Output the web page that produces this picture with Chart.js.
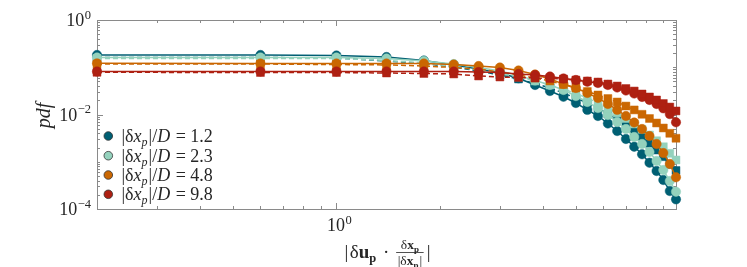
<!DOCTYPE html>
<html><head><meta charset="utf-8">
<script src="https://cdn.jsdelivr.net/npm/chart.js@4/dist/chart.umd.min.js"></script>
<style>html,body{margin:0;padding:0;background:#fff}</style>
</head><body>
<canvas id="c" width="747" height="267" style="width:747px;height:267px;display:block"></canvas>
<script>
// ---- data ----
const xValues = [0.2,0.6,1.0,1.4,1.8,2.2,2.6,3.0,3.4,3.8,4.2,4.6,5.0,5.4,5.8,6.2,6.6,7.0,7.4,7.8,8.2,8.6,9.0,9.4,9.8];
const separations = ['1.2','2.3','4.8','9.8'];
const circ_1_2 = [0.182,0.182,0.177,0.165,0.139,0.112,0.092,0.0755,0.0584,0.0421,0.0314,0.0238,0.0175,0.0125,0.0093,0.00645,0.00447,0.00303,0.00208,0.00144,0.000955,0.000637,0.000411,0.00024,0.00016];
const sq_1_2   = [0.161,0.161,0.157,0.136,0.120,0.101,0.0833,0.0686,0.0564,0.0453,0.0364,0.0285,0.0223,0.0175,0.0134,0.0102,0.00784,0.0060,0.00447,0.00339,0.00246,0.00177,0.00128,0.000883,0.000653];
const circ_2_3 = [0.161,0.161,0.161,0.153,0.136,0.117,0.0988,0.0833,0.0669,0.0524,0.0421,0.033,0.0246,0.0184,0.0137,0.00976,0.00694,0.00493,0.00334,0.00238,0.00161,0.00104,0.000669,0.000391,0.000232];
const sq_2_3   = [0.153,0.153,0.153,0.139,0.123,0.104,0.0874,0.0737,0.0622,0.0512,0.0421,0.0346,0.0278,0.0223,0.0175,0.0137,0.0108,0.00823,0.00629,0.00486,0.00368,0.00279,0.00208,0.00151,0.00109];
const circ_4_8 = [0.121,0.120,0.120,0.120,0.120,0.114,0.106,0.0988,0.0853,0.0702,0.0564,0.0442,0.0364,0.0285,0.0223,0.0167,0.0125,0.0093,0.00677,0.00493,0.00351,0.00238,0.00153,0.000897,0.000469];
const sq_4_8   = [0.117,0.117,0.114,0.112,0.106,0.0988,0.0918,0.0793,0.0686,0.0592,0.0512,0.0431,0.0364,0.0307,0.0259,0.0218,0.0184,0.0151,0.0125,0.0101,0.00823,0.00661,0.00518,0.0040,0.00314];
const circ_9_8 = [0.0813,0.0813,0.0813,0.0813,0.0813,0.0813,0.0793,0.0774,0.072,0.0686,0.0637,0.0578,0.0537,0.0494,0.0464,0.0421,0.0373,0.0322,0.0278,0.0235,0.0203,0.0167,0.0135,0.0102,0.00684];
const sq_9_8   = [0.0782,0.0774,0.0774,0.0755,0.0737,0.072,0.0653,0.0622,0.0607,0.0592,0.0578,0.0564,0.0537,0.0512,0.0487,0.0442,0.0401,0.0355,0.0314,0.0272,0.0235,0.0203,0.0171,0.0144,0.0119];
const xMajorTicks = [1];
const xMinorTicks = [0.3,0.4,0.5,0.6,0.7,0.8,0.9,2,3,4,5,6,7,8,9];
const yMajorTicks = [1,1e-2,1e-4];
const yMinorTicks = [];
[1e-4,1e-3,1e-2,1e-1].forEach(d=>{for(let k=2;k<=9;k++) yMinorTicks.push(k*d);});
yMinorTicks.push(1e-1,1e-3);
const xTickLabels = [{v:1, base:'10', exp:'0'}];
const yTickLabels = [{v:1, base:'10', exp:'0'},{v:1e-2, base:'10', exp:'\u22122'},{v:1e-4, base:'10', exp:'\u22124'}];

const colors = ['#005f73','#94d2bd','#ca6702','#ae2012'];
const circles = [circ_1_2, circ_2_3, circ_4_8, circ_9_8];
const squares = [sq_1_2, sq_2_3, sq_4_8, sq_9_8];

const datasets = [];
circles.forEach((arr,i)=>{
  const c = colors[i];
  datasets.push({label:'c'+i, data: xValues.map((x,j)=>({x, y: arr[j]})), borderColor:c, backgroundColor:c,
    borderWidth:1.5, pointStyle:'circle', pointRadius:4.7, pointBorderWidth:0.6, pointBorderColor:c+'cc', pointBackgroundColor:c,
    tension:0, clip:false, order: 20 - 2*i});
  datasets.push({label:'s'+i, data: xValues.map((x,j)=>({x, y: squares[i][j]})), borderColor:c, backgroundColor:c,
    borderWidth:1.5, borderDash:[5,3], pointStyle:'rect', pointRadius:5.6, pointBorderWidth:0.6, pointBorderColor:c+'cc', pointBackgroundColor:c,
    tension:0, clip:false, order: 19 - 2*i});
});

const SERIF = '"Liberation Serif", "DejaVu Serif", serif';
const AX = '#8a8a8a';

function drawPow(ctx, base, exp, x, y, align){
  ctx.font = '18px ' + SERIF;
  const wb = ctx.measureText(base).width;
  ctx.font = '12.5px ' + SERIF;
  const we = ctx.measureText(exp).width;
  const w = wb + we + 0.5;
  let x0 = align==='right' ? x - w : (align==='center' ? x - w/2 : x);
  ctx.textAlign='left'; ctx.textBaseline='alphabetic';
  ctx.font = '18px ' + SERIF; ctx.fillText(base, x0, y);
  ctx.font = '12.5px ' + SERIF; ctx.fillText(exp, x0 + wb + 0.5, y - 7.5);
}

function drawRuns(ctx, runs, x, y){
  let cx = x;
  runs.forEach(r=>{ ctx.font = r[1]; ctx.fillText(r[0], cx, y + (r[2]||0)); cx += ctx.measureText(r[0]).width + (r[3]||0); });
  return cx - x;
}
function runsWidth(ctx, runs){ let w=0; runs.forEach(r=>{ctx.font=r[1]; w+=ctx.measureText(r[0]).width+(r[3]||0);}); return w; }

const axesPlugin = {
  id:'axesPlugin',
  beforeDatasetsDraw(chart){
    const {ctx, chartArea:a, scales:{x, y}} = chart;
    ctx.save();
    ctx.strokeStyle = AX; ctx.lineWidth = 1;
    ctx.strokeRect(Math.round(a.left)+0.5, Math.round(a.top)+0.5, Math.round(a.right-a.left), Math.round(a.bottom-a.top));
    ctx.beginPath();
    const tickX = (v,len)=>{ const px = Math.round(x.getPixelForValue(v))+0.5;
      ctx.moveTo(px, a.bottom); ctx.lineTo(px, a.bottom-len); ctx.moveTo(px, a.top); ctx.lineTo(px, a.top+len); };
    const tickY = (v,len)=>{ const py = Math.round(y.getPixelForValue(v))+0.5;
      ctx.moveTo(a.left, py); ctx.lineTo(a.left+len, py); ctx.moveTo(a.right, py); ctx.lineTo(a.right-len, py); };
    xMajorTicks.forEach(v=>tickX(v,6)); xMinorTicks.forEach(v=>tickX(v,3));
    yMajorTicks.forEach(v=>tickY(v,6)); yMinorTicks.forEach(v=>tickY(v,3));
    ctx.stroke();
    ctx.restore();
  },
  afterDraw(chart){
    const {ctx, chartArea:a, scales:{x, y}} = chart;
    ctx.save();
    ctx.fillStyle = '#262626';
    xTickLabels.forEach(t=> drawPow(ctx, t.base, t.exp, x.getPixelForValue(t.v)+3, a.bottom+22, 'center'));
    yTickLabels.forEach(t=> drawPow(ctx, t.base, t.exp, a.left-6, y.getPixelForValue(t.v)+6, 'right'));
    // y title
    ctx.save();
    ctx.translate(50, (a.top+a.bottom)/2 + 1);
    ctx.rotate(-Math.PI/2);
    ctx.font = 'italic 20px ' + SERIF; ctx.textAlign='center'; ctx.textBaseline='alphabetic';
    ctx.fillText('pdf', 0, 0);
    ctx.restore();
    // x title
    ctx.textAlign='left'; ctx.textBaseline='alphabetic';
    const F = '19px ' + SERIF, FB = 'bold 19px ' + SERIF, FS = 'bold 12.5px ' + SERIF;
    const f1 = '13.5px ' + SERIF, f1b = 'bold 13.5px ' + SERIF, f1s = 'bold 9px ' + SERIF;
    const pre = [['|', F, 0, 1.5],['\u03b4', F],['u', FB],['p', FS, 4, 2],[' \u00b7 ', F, 0, 2]];
    const num = [['\u03b4', f1],['x', f1b],['p', f1s, 3]];
    const den = [['|\u03b4', f1],['x', f1b],['p', f1s, 3, 1],['|', f1]];
    const post = [['|', F]];
    const wPre = runsWidth(ctx, pre), wNum = runsWidth(ctx, num), wDen = runsWidth(ctx, den), wPost = runsWidth(ctx, post);
    const wFrac = Math.max(wNum, wDen) + 3;
    const total = wPre + wFrac + 3 + wPost;
    const cx = (a.left + a.right)/2 + 1;
    let sx = cx - total/2;
    const base = 258;
    drawRuns(ctx, pre, sx, base); sx += wPre;
    drawRuns(ctx, num, sx + (wFrac - wNum)/2, base - 9.5);
    drawRuns(ctx, den, sx + (wFrac - wDen)/2, base + 7);
    ctx.fillRect(sx, base - 6, wFrac, 0.8);
    sx += wFrac + 3;
    drawRuns(ctx, post, sx, base);
    // legend
    const legendY = [136, 155.7, 175, 194.3];
    separations.forEach((s,i)=>{
      const ly = legendY[i];
      ctx.beginPath(); ctx.arc(108.3, ly, 4.3, 0, Math.PI*2);
      ctx.fillStyle = colors[i]; ctx.fill();
      ctx.lineWidth = 0.8; ctx.strokeStyle = '#333'; ctx.stroke();
      ctx.fillStyle = '#262626';
      const L = '18px ' + SERIF, LI = 'italic 18px ' + SERIF, LS = 'italic 12px ' + SERIF;
      drawRuns(ctx, [['|\u03b4', L],['x', LI],['p', LS, 4, 1],['|/', L],['D', LI, 0, 1],[' = ' + s, L]], 121.5, ly + 6);
    });
    ctx.restore();
  }
};

new Chart(document.getElementById('c'), {
  type:'line',
  data:{ datasets },
  options:{
    responsive:false, devicePixelRatio:1, animation:false,
    layout:{ padding:{ left:97, right:71, top:20, bottom:58 } },
    plugins:{ legend:{display:false}, tooltip:{enabled:false} },
    scales:{
      x:{ type:'logarithmic', min:0.2, max:9.8, display:false },
      y:{ type:'logarithmic', min:1e-4, max:1, display:false }
    }
  },
  plugins:[axesPlugin]
});
</script>
</body></html>
